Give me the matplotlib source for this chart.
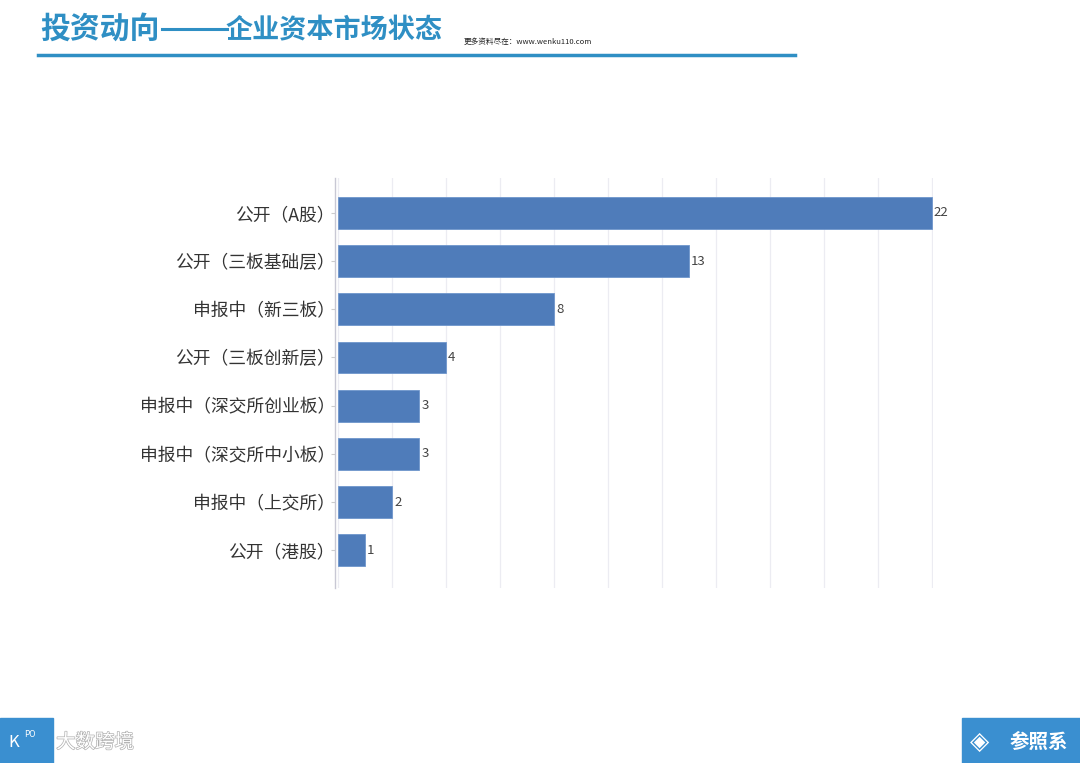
import matplotlib.pyplot as plt
import matplotlib.patheffects as pe
from matplotlib.patches import Rectangle

plt.rcParams['font.family'] = ['Noto Sans CJK SC', 'DejaVu Sans']

categories = ['公开（A股）', '公开（三板基础层）', '申报中（新三板）', '公开（三板创新层）',
              '申报中（深交所创业板）', '申报中（深交所中小板）', '申报中（上交所）', '公开（港股）']
counts = [22, 13, 8, 4, 3, 3, 2, 1]

bar_color = '#4f7cba'
blue = '#2f8fc4'

fig = plt.figure(figsize=(10.8, 7.63), dpi=100)
ax = fig.add_axes([0.310, 0.229, 0.554, 0.538])

y = list(range(len(categories)))
ax.barh(y, counts, height=0.66, color=bar_color, edgecolor='#6f96cc', linewidth=0.6, zorder=2)
for yi, v in zip(y, counts):
    ax.text(v + 0.08, yi, str(v), va='center', ha='left', fontsize=9.5, color='#444444')

ax.set_yticks(y)
ax.set_yticklabels(categories, fontsize=12.8, color='#333333')
ax.set_ylim(len(categories) - 0.21, -0.73)
ax.set_xlim(-0.12, 22.05)
ax.set_xticks(range(0, 23, 2))
ax.tick_params(axis='x', bottom=False, labelbottom=False)
ax.tick_params(axis='y', length=3, color='#cccccc', pad=-3)
ax.grid(axis='x', color='#ececf2', linewidth=0.9, zorder=0)
for s in ['top', 'right', 'bottom']:
    ax.spines[s].set_visible(False)
ax.spines['left'].set_color('#c8c8d4')
ax.spines['left'].set_linewidth(1.0)

# header
fig.text(0.037, 0.962, '投资动向', fontsize=21.5, fontweight='bold', color=blue, va='center')
fig.add_artist(plt.Line2D([0.150, 0.210], [0.962, 0.962], color=blue, linewidth=2.2))
fig.text(0.209, 0.960, '企业资本市场状态', fontsize=19.5, fontweight='bold', color=blue, va='center')
fig.text(0.429, 0.945, '更多资料尽在：www.wenku110.com', fontsize=5.5, color='#222222', va='center')
fig.add_artist(plt.Line2D([0.035, 0.736], [0.928, 0.928], color=blue, linewidth=2.5))

# footer logos
fig.add_artist(Rectangle((0, 0), 0.049, 0.059, color='#3a8fd0', transform=fig.transFigure))
fig.text(0.008, 0.027, 'K', fontsize=12, color='white', va='center')
fig.text(0.022, 0.038, 'PO', fontsize=6, color='white', va='center')
fig.text(0.052, 0.027, '大数跨境', fontsize=14, color='white', va='center',
         path_effects=[pe.withStroke(linewidth=1.0, foreground='#b0b0b0')])
fig.add_artist(Rectangle((0.891, 0), 0.109, 0.059, color='#3a8fd0', transform=fig.transFigure))
fig.text(0.935, 0.027, '参照系', fontsize=14, color='white', va='center', ha='left', fontweight='bold')
fig.text(0.898, 0.027, '◈', fontsize=18, color='white', va='center', family=['DejaVu Sans'])

fig.savefig('out.png', dpi=100)
